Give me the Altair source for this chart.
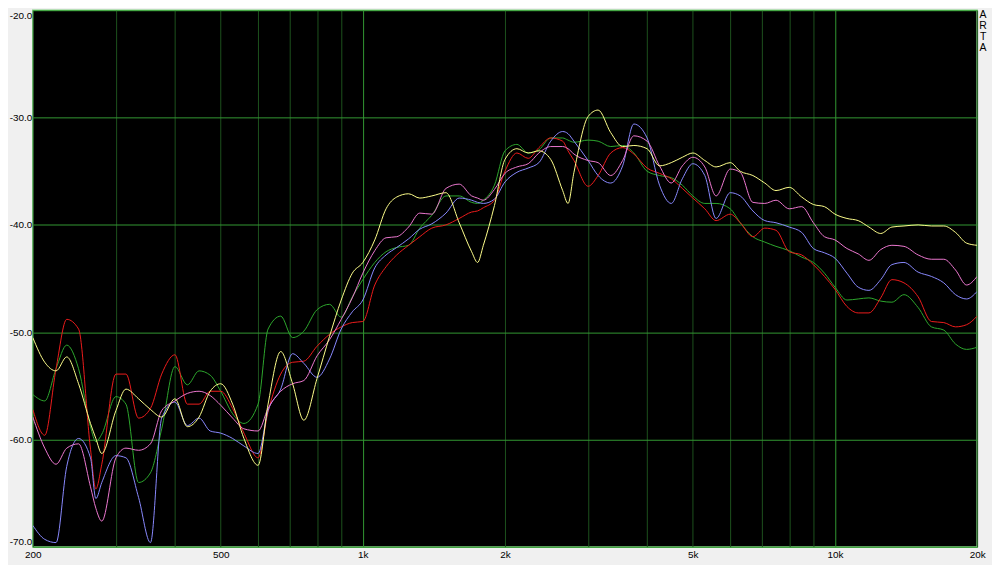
import altair as alt
import pandas as pd

freqs = [200, 212, 224, 236, 250, 265, 272, 280, 300, 315, 335, 355, 375, 400, 425, 450, 475,
         500, 530, 560, 600, 630, 670, 710, 750, 800, 850, 900, 950,
         1000, 1060, 1120, 1180, 1250, 1320, 1400, 1500, 1600, 1700, 1750, 1800, 1900,
         2000, 2120, 2240, 2360, 2500, 2650, 2720, 2800, 3000, 3150, 3350, 3550, 3750, 4000, 4250, 4500, 4750,
         5000, 5300, 5600, 6000, 6300, 6700, 7100, 7500, 8000, 8500, 9000, 9500,
         10000, 10600, 11200, 11800, 12500, 13200, 14000, 15000, 16000, 17000, 18000, 19000, 20000]

yellow = [-50.5, -52.8, -53.6, -52.3, -54.8, -58.5, -59.9, -61.3, -57.3, -55.3, -56.2, -57.2, -57.9, -56.2, -58.8, -57.9, -55.5,
          -54.8, -56.7, -59.9, -62.4, -56.7, -51.8, -54.8, -58.2, -54.3, -50.4, -47.0, -44.5,
          -43.5, -41.4, -38.5, -37.4, -37.1, -37.5, -37.3, -37.0, -39.8, -42.5, -43.5, -41.9, -38.2,
          -33.9, -32.9, -33.3, -33.1, -33.9, -36.8, -38.0, -35.1, -29.9, -29.3, -31.4, -32.7, -32.6, -32.9, -34.5, -34.2, -33.7,
          -33.3, -34.0, -34.6, -34.2, -35.0, -35.4, -36.1, -36.8, -36.5, -37.4, -38.1, -38.3,
          -39.0, -39.4, -39.6, -40.2, -40.8, -40.2, -40.1, -40.0, -40.1, -40.1, -40.7, -41.7, -41.9]

green = [-55.8, -56.4, -53.4, -51.2, -53.4, -58.8, -60.2, -59.5, -56.0, -56.7, -64.0, -63.1, -59.0, -53.2, -54.9, -53.6, -54.0,
         -55.5, -57.6, -58.5, -56.7, -49.7, -48.5, -50.5, -49.9, -47.9, -47.4, -48.6, -46.7,
         -45.1, -43.5, -42.5, -42.1, -41.9, -40.3, -39.1, -37.3, -37.3, -37.9, -38.0, -37.7, -36.3,
         -33.1, -32.5, -33.3, -33.0, -31.9, -31.9, -32.1, -32.3, -32.1, -32.2, -32.7, -32.6, -33.3, -35.0, -35.4, -35.6, -36.3,
         -37.3, -38.0, -38.0, -38.5, -39.8, -41.1, -41.6, -42.0, -42.4, -43.0, -43.5, -44.5,
         -45.8, -47.0, -46.9, -46.8, -47.1, -47.2, -46.5, -47.7, -49.5, -49.8, -51.1, -51.6, -51.4]

red = [-57.2, -59.6, -53.4, -48.8, -49.7, -60.9, -64.6, -62.3, -53.9, -53.9, -58.0, -57.1, -53.9, -52.1, -56.7, -56.7, -55.5,
       -55.5, -57.1, -59.4, -61.7, -57.4, -53.9, -52.8, -52.7, -51.3, -50.2, -49.5, -49.1,
       -49.0, -45.6, -43.9, -42.8, -41.9, -41.1, -40.3, -40.0, -39.4, -38.8, -38.7, -38.4, -37.7,
       -35.0, -33.3, -33.8, -32.8, -31.9, -32.2, -33.1, -34.0, -36.4, -35.4, -33.3, -32.8, -33.4, -34.7, -35.2, -35.7, -36.6,
       -37.5, -38.5, -39.6, -39.0, -39.8, -41.1, -40.3, -40.5, -42.5, -42.8, -43.7, -44.8,
       -46.0, -47.6, -48.2, -48.2, -46.8, -45.1, -45.4, -46.7, -49.0, -49.1, -49.5, -49.3, -48.5]

blue = [-68.0, -69.3, -69.6, -62.5, -59.9, -61.7, -65.5, -64.0, -61.5, -61.7, -65.4, -69.6, -58.0, -56.5, -58.7, -58.0, -59.2,
        -59.4, -59.9, -60.6, -61.3, -57.3, -55.3, -52.0, -52.9, -54.2, -52.5, -49.7, -48.1,
        -47.0, -44.0, -42.8, -42.1, -41.3, -40.4, -39.9, -38.9, -37.5, -37.7, -37.9, -38.0, -37.6,
        -36.0, -35.1, -34.7, -34.2, -32.2, -31.3, -31.5, -32.2, -34.0, -35.4, -36.1, -34.5, -30.6, -31.9, -36.3, -38.0, -35.7,
        -34.3, -35.4, -39.4, -37.0, -37.3, -38.7, -39.6, -39.8, -40.2, -40.7, -42.2, -42.6,
        -43.1, -44.5, -45.8, -46.1, -45.1, -43.7, -43.5, -44.4, -44.8, -45.4, -46.5, -46.9, -46.2]

pink = [-57.9, -60.8, -62.3, -60.8, -60.4, -64.4, -66.4, -67.6, -61.7, -60.8, -61.0, -60.4, -57.3, -56.4, -55.7, -55.5, -55.9,
        -56.8, -58.0, -59.0, -59.2, -57.1, -55.5, -54.8, -54.5, -52.2, -50.7, -48.8, -46.8,
        -44.5, -42.4, -41.2, -41.1, -40.2, -38.9, -39.0, -36.6, -36.2, -37.3, -37.5, -37.7, -36.7,
        -35.2, -34.6, -34.3, -33.3, -32.7, -32.7, -32.9, -33.4, -34.0, -34.2, -35.4, -34.0, -31.7, -32.2, -34.5, -36.1, -34.5,
        -33.7, -34.6, -37.3, -34.8, -35.1, -37.9, -38.0, -37.7, -38.5, -38.3, -39.8, -41.1,
        -41.4, -42.2, -42.7, -43.3, -42.3, -41.9, -42.0, -42.8, -43.2, -43.2, -44.2, -45.6, -44.8]

series_names = ["green", "red", "blue", "pink", "yellow"]
series_colors = ["#2ea82e", "#ee1c1c", "#8a8aff", "#ee78d0", "#ffff8c"]
series_values = [green, red, blue, pink, yellow]

x_label_values = [200, 500, 1000, 2000, 5000, 10000, 20000]
x_grid_values = [200, 300, 400, 500, 600, 700, 800, 900, 1000,
                 2000, 3000, 4000, 5000, 6000, 7000, 8000, 9000, 10000, 20000]
y_tick_values = [-70, -60, -50, -40, -30, -20]
side_letters = ["A", "R", "T", "A"]

rows = []
for name, vals in zip(series_names, series_values):
    for f, v in zip(freqs, vals):
        rows.append({"freq": f, "db": v, "series": name})
df = pd.DataFrame(rows)

FONT = "Liberation Sans"
label_list = "[" + ",".join(str(v) for v in x_label_values) + "]"

x_axis = alt.Axis(
    values=x_grid_values, title=None, grid=True, ticks=False, domain=False,
    gridColor=alt.condition("datum.value == 1000 || datum.value == 10000",
                            alt.value("#339933"), alt.value("#1d521d")),
    gridOpacity=1, gridWidth=1,
    labelExpr="indexof(" + label_list + ", datum.value) < 0 ? '' : "
              "(datum.value >= 1000 ? format(datum.value / 1000, 'd') + 'k' : format(datum.value, 'd'))",
    labelFont=FONT, labelFontSize=10, labelColor="#000000", labelPadding=3,
    labelOverlap=False, labelBound=False, labelFlush=False,
)
y_axis = alt.Axis(
    values=y_tick_values, title=None, grid=True, ticks=False, domain=False,
    gridColor="#339933", gridOpacity=1, gridWidth=1,
    labelExpr="'-' + format(abs(datum.value), '.1f')",
    labelFlush=True, labelFont=FONT, labelFontSize=10, labelColor="#000000",
    labelPadding=1, labelOverlap=False, labelBound=False,
)

lines = alt.Chart(df).mark_line(strokeWidth=1, interpolate="monotone", clip=True).encode(
    x=alt.X("freq:Q", scale=alt.Scale(type="log", domain=[200, 20000], nice=False), axis=x_axis),
    y=alt.Y("db:Q", scale=alt.Scale(domain=[-70, -20], nice=False, zero=False), axis=y_axis),
    color=alt.Color("series:N", scale=alt.Scale(domain=series_names, range=series_colors), legend=None),
    detail="series:N",
)

letter_layers = []
for i, letter in enumerate(side_letters):
    letter_layers.append(
        alt.Chart(pd.DataFrame({"t": [letter]})).mark_text(
            font=FONT, fontSize=10.5, color="#000000", baseline="middle", align="center").encode(
            text="t:N", x=alt.value(958), y=alt.value(5 + 11 * i))
    )

chart = alt.layer(lines, *letter_layers).properties(
    width=952, height=541,
    padding={"left": 25, "top": 0, "right": 15, "bottom": 16},
    autosize=alt.AutoSizeParams(type="none"),
    background="#f0f0f0",
).configure_view(fill="#000000", stroke="#7fd07f", strokeWidth=1.5)

chart.save("out.html", embed_options={"renderer": "svg", "actions": False})
